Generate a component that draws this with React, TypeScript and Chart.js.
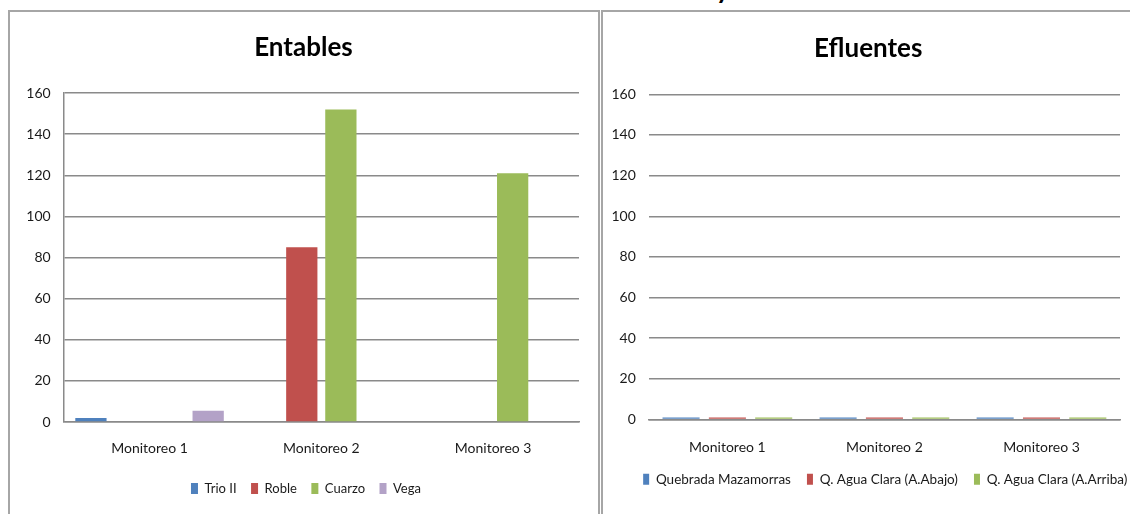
import React, { useEffect, useRef } from 'react';
import { Chart, registerables } from 'chart.js';

Chart.register(...registerables);

// ---- Data ----
const categories = ['Monitoreo 1', 'Monitoreo 2', 'Monitoreo 3'];
const yTicks = [0, 20, 40, 60, 80, 100, 120, 140, 160];

const entablesTitle = 'Entables';
const entablesSeries = ['Trio II', 'Roble', 'Cuarzo', 'Vega'];
const trioII = [2, null, null];
const roble = [null, 85, null];
const cuarzo = [null, 152, 121];
const vega = [5.5, null, null];

const efluentesTitle = 'Efluentes';
const efluentesSeries = ['Quebrada Mazamorras', 'Q. Agua Clara (A.Abajo)', 'Q. Agua Clara (A.Arriba)'];
const quebradaMazamorras = [1, 1, 1];
const aguaClaraAbajo = [1, 1, 1];
const aguaClaraArriba = [1, 1, 1];

// ---- Styles ----
const FONT = 'Lato, "Open Sans", "DejaVu Sans", sans-serif';
const TEXT = '#1a1a1a';
const GRID = '#8a8a8a';
const BLUE = '#4F81BD';
const RED = '#C0504D';
const GREEN = '#9BBB59';
const LAVENDER = '#B3A2C7';

// shifts the title / legend boxes horizontally after layout
const shiftBoxes = {
  id: 'shiftBoxes',
  afterLayout(chart: any, _args: any, opts: any) {
    const l = chart.legend;
    if (l && opts && opts.legendDx) {
      l.left += opts.legendDx;
      l.right += opts.legendDx;
    }
    const t = chart.titleBlock;
    if (t && opts && opts.titleDx) {
      t.left += opts.titleDx;
      t.right += opts.titleDx;
    }
  },
};

function makeOptions(cfg: {
  title: string;
  titlePadTop: number;
  titlePadBottom: number;
  padLeft: number;
  padRight: number;
  yBorder: boolean;
  xPadding: number;
  xExtra: number;
  boxWidth: number;
  legendFont: number;
  legendPadding: number;
  legendDx: number;
  titleDx: number;
  catPct: number;
}) {
  return {
    responsive: false,
    animation: false,
    layout: { padding: { left: cfg.padLeft, right: cfg.padRight, top: 0, bottom: 0 } },
    datasets: { bar: { categoryPercentage: cfg.catPct, barPercentage: 0.8 } },
    plugins: {
      title: {
        display: true,
        text: cfg.title,
        color: '#000',
        font: { family: FONT, size: 26, weight: 'bold', lineHeight: 1.2 },
        padding: { top: cfg.titlePadTop, bottom: cfg.titlePadBottom },
      },
      legend: {
        display: true,
        position: 'bottom',
        labels: {
          color: TEXT,
          font: { family: FONT, size: cfg.legendFont },
          boxWidth: cfg.boxWidth,
          boxHeight: 11,
          padding: cfg.legendPadding,
        },
      },
      tooltip: { enabled: false },
      shiftBoxes: { legendDx: cfg.legendDx, titleDx: cfg.titleDx },
    },
    scales: {
      x: {
        grid: { display: false, drawTicks: false },
        border: { display: true, color: GRID, width: 1.5 },
        ticks: { color: TEXT, font: { family: FONT, size: 14 }, padding: cfg.xPadding },
        afterFit: (scale: any) => {
          scale.height += cfg.xExtra;
        },
      },
      y: {
        min: 0,
        max: 160,
        afterBuildTicks: (scale: any) => {
          scale.ticks = yTicks.map((v) => ({ value: v }));
        },
        grid: { color: GRID, lineWidth: 1.5, drawTicks: false },
        border: { display: cfg.yBorder, color: GRID, width: 1.5 },
        ticks: { color: TEXT, font: { family: FONT, size: 14 }, padding: 13 },
      },
    },
  };
}

function EntablesChart() {
  const ref = useRef<HTMLCanvasElement | null>(null);
  useEffect(() => {
    if (!ref.current) return;
    const chart = new Chart(ref.current, {
      type: 'bar',
      data: {
        labels: categories,
        datasets: [
          { label: entablesSeries[0], data: trioII, backgroundColor: BLUE },
          { label: entablesSeries[1], data: roble, backgroundColor: RED },
          { label: entablesSeries[2], data: cuarzo, backgroundColor: GREEN },
          { label: entablesSeries[3], data: vega, backgroundColor: LAVENDER },
        ],
      },
      options: makeOptions({
        title: entablesTitle,
        titlePadTop: 20,
        titlePadBottom: 29.8,
        padLeft: 3.3,
        padRight: 19,
        yBorder: true,
        xPadding: 18,
        xExtra: -7.3,
        boxWidth: 7,
        legendFont: 13,
        legendPadding: 14.5,
        legendDx: 9.8,
        titleDx: 7.3,
        catPct: 0.91,
      }) as any,
      plugins: [shiftBoxes as any],
    });
    return () => chart.destroy();
  }, []);
  return <canvas ref={ref} width={588} height={493} style={{ width: 588, height: 493, display: 'block' }} />;
}

function EfluentesChart() {
  const ref = useRef<HTMLCanvasElement | null>(null);
  useEffect(() => {
    if (!ref.current) return;
    const chart = new Chart(ref.current, {
      type: 'bar',
      data: {
        labels: categories,
        datasets: [
          { label: efluentesSeries[0], data: quebradaMazamorras, backgroundColor: BLUE },
          { label: efluentesSeries[1], data: aguaClaraAbajo, backgroundColor: RED },
          { label: efluentesSeries[2], data: aguaClaraArriba, backgroundColor: GREEN },
        ],
      },
      options: makeOptions({
        title: efluentesTitle,
        titlePadTop: 21.4,
        titlePadBottom: 29.7,
        padLeft: -4.5,
        padRight: 14,
        yBorder: false,
        xPadding: 19.3,
        xExtra: -18.45,
        boxWidth: 6,
        legendFont: 13.5,
        legendPadding: 16,
        legendDx: 26,
        titleDx: 9,
        catPct: 0.885,
      }) as any,
      plugins: [shiftBoxes as any],
    });
    return () => chart.destroy();
  }, []);
  return <canvas ref={ref} width={531} height={484} style={{ width: 531, height: 484, display: 'block' }} />;
}

export default function App() {
  return (
    <div
      style={{
        position: 'fixed',
        left: 0,
        top: 0,
        width: 1130,
        height: 514,
        overflow: 'hidden',
        background: '#fff',
      }}
    >
      <span
        style={{
          position: 'absolute',
          left: 716,
          top: -24,
          font: `bold 26px ${FONT}`,
          lineHeight: '26px',
          color: '#000',
        }}
      >
        y
      </span>
      <div
        style={{
          position: 'absolute',
          left: 8,
          top: 10,
          width: 588,
          height: 600,
          border: '2px solid #a6a6a6',
        }}
      >
        <EntablesChart />
      </div>
      <div
        style={{
          position: 'absolute',
          left: 601,
          top: 10,
          width: 600,
          height: 600,
          border: '2px solid #a6a6a6',
        }}
      >
        <EfluentesChart />
      </div>
    </div>
  );
}
